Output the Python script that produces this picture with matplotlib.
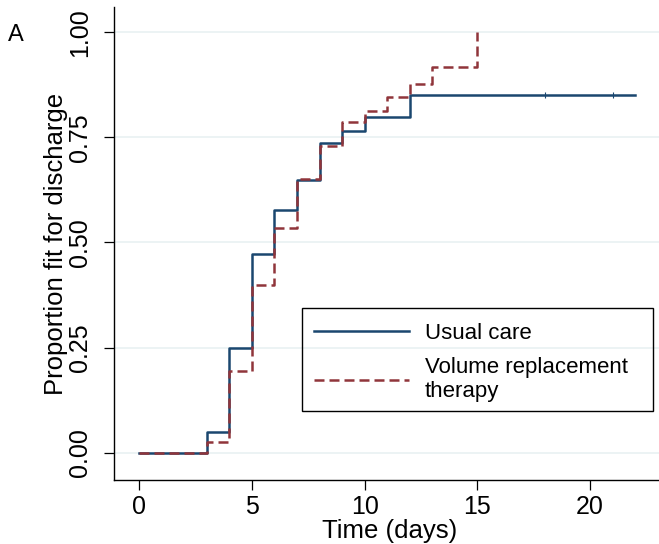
import matplotlib.pyplot as plt
from matplotlib.patches import Rectangle

plt.rcParams['font.family'] = ['Liberation Sans', 'DejaVu Sans']

# Kaplan-Meier style cumulative proportion fit for discharge
time_usual = [0, 3, 4, 5, 6, 7, 8, 9, 10, 12, 22]
prop_usual = [0, 0.05, 0.249, 0.473, 0.577, 0.649, 0.737, 0.765, 0.798, 0.850, 0.850]
censor_usual = [18, 21]

time_vrt = [0, 3, 4, 5, 6, 7, 8, 9, 10, 11, 12, 13, 15]
prop_vrt = [0, 0.026, 0.194, 0.399, 0.534, 0.651, 0.729, 0.787, 0.813, 0.845, 0.876, 0.918, 1.0]

x_ticks = [0, 5, 10, 15, 20]
y_ticks = [0, 0.25, 0.5, 0.75, 1.0]
y_ticklabels = ['0.00', '0.25', '0.50', '0.75', '1.00']

BLUE = '#1a476f'
RED = '#90353b'
GRID = '#eaf2f3'
W, H = 659, 544


def main():
    fig = plt.figure(figsize=(W / 100, H / 100), dpi=100)
    ax = fig.add_axes([113.5 / W, 64 / H, (W - 113.5) / W, (480 - 7) / H])

    ax.step(time_usual, prop_usual, where='post', color=BLUE, lw=1.8,
            label='Usual care', zorder=3)
    ax.plot(censor_usual, [prop_usual[-1]] * len(censor_usual), ls='none',
            marker='|', ms=4, mew=0.8, color=BLUE, zorder=3)
    ax.step(time_vrt, prop_vrt, where='post', color=RED, lw=1.8,
            dashes=(4, 2), label='Volume replacement\ntherapy', zorder=4)

    ax.set_xlim(-1.14, 23.06)
    ax.set_ylim(-0.065, 1.06)
    ax.set_xticks(x_ticks)
    ax.set_yticks(y_ticks)
    ax.set_yticklabels(y_ticklabels, rotation=90, va='center')

    for y in y_ticks:
        ax.axhline(y, color=GRID, lw=1.3, zorder=1)

    for side in ('top', 'right'):
        ax.spines[side].set_visible(False)
    for side in ('left', 'bottom'):
        ax.spines[side].set_linewidth(1.0)
        ax.spines[side].set_color('black')

    ax.tick_params(axis='both', length=7.5, width=0.9, labelsize=18)
    ax.tick_params(axis='y', pad=8)
    ax.tick_params(axis='x', pad=3)

    ax.set_xlabel('Time (days)', fontsize=18.5, va='bottom')
    ax.set_ylabel('Proportion fit for discharge', fontsize=18.5)
    ax.xaxis.set_label_coords(0.5 + 3 / 545.5, -(543 - 480) / 473)
    ax.yaxis.set_label_coords(-(113.5 - 68) / 545.5, 0.5)

    ax.legend(loc='upper left', bbox_to_anchor=(301.7 / W, 1 - 310.5 / H),
              bbox_transform=fig.transFigure, borderaxespad=0,
              fontsize=16, frameon=False,
              handlelength=4.3, handletextpad=0.7, borderpad=0.55,
              labelspacing=0.6)
    # legend box drawn separately (Stata-style box wider than its content)
    fig.patches.append(Rectangle((301.7 / W, 1 - 411 / H), 351 / W, 102.7 / H,
                                 transform=fig.transFigure, fill=False,
                                 edgecolor='black', lw=1.0, zorder=5))

    fig.text(8 / W, 1 - 41 / H, 'A', fontsize=17)

    fig.savefig('out.png', dpi=100, facecolor='white')


if __name__ == "__main__":
    main()
